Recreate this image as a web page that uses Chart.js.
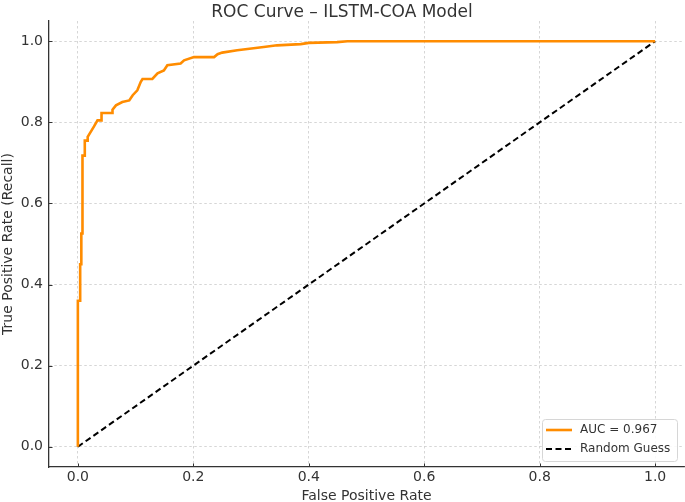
<!DOCTYPE html>
<html>
<head>
<meta charset="utf-8">
<script src="https://cdn.jsdelivr.net/npm/chart.js@4.4.0/dist/chart.umd.min.js"></script>
<style>
html, body { margin: 0; padding: 0; background: #fff; }
#wrap { width: 685px; height: 502px; position: relative; }
</style>
</head>
<body>
<div id="wrap"><canvas id="roc"></canvas></div>
<script>
// ROC points (corners of the step curve)
let fpr = [0, 0, 0.004, 0.004, 0.006, 0.006, 0.008, 0.008, 0.012, 0.012, 0.017, 0.017,
  0.022, 0.028, 0.034, 0.041, 0.041, 0.06, 0.06, 0.066, 0.077, 0.089, 0.095, 0.103,
  0.109, 0.112, 0.129, 0.138, 0.149, 0.155, 0.178, 0.184, 0.201, 0.236, 0.242, 0.25,
  0.276, 0.322, 0.345, 0.386, 0.4, 0.449, 0.467, 1.0];
let tpr = [0, 0.36, 0.36, 0.45, 0.45, 0.526, 0.526, 0.718, 0.718, 0.755, 0.755, 0.764,
  0.776, 0.79, 0.805, 0.805, 0.823, 0.823, 0.831, 0.842, 0.85, 0.854, 0.867, 0.879,
  0.9, 0.907, 0.907, 0.921, 0.928, 0.941, 0.945, 0.953, 0.961, 0.961, 0.968, 0.972,
  0.978, 0.986, 0.99, 0.993, 0.996, 0.998, 1.0, 1.0];

// random guess diagonal
let guessX = [0, 1];
let guessY = [0, 1];

let tickValues = [0, 0.2, 0.4, 0.6, 0.8, 1.0];

let aucLabel = "AUC = 0.967";
let guessLabel = "Random Guess";

let textColor = "#333333";
let font = "'DejaVu Sans', sans-serif";

function pairs(xs, ys) {
  return xs.map((x, i) => ({ x: x, y: ys[i] }));
}

function fixTicks(scale) {
  scale.ticks = tickValues.map(v => ({ value: v }));
}

// matplotlib style inward ticks
const innerTicks = {
  id: "innerTicks",
  afterDraw(chart) {
    let ctx = chart.ctx;
    let area = chart.chartArea;
    let xs = chart.scales.x, ys = chart.scales.y;
    ctx.save();
    ctx.strokeStyle = textColor;
    ctx.lineWidth = 1;
    ctx.beginPath();
    tickValues.forEach(v => {
      let px = Math.round(xs.getPixelForValue(v)) + 0.5;
      ctx.moveTo(px, area.bottom);
      ctx.lineTo(px, area.bottom - 3.5);
      let py = Math.round(ys.getPixelForValue(v)) + 0.5;
      ctx.moveTo(area.left, py);
      ctx.lineTo(area.left + 3.5, py);
    });
    ctx.stroke();
    ctx.restore();
  }
};

// legend box in lower right corner of the plot
const cornerLegend = {
  id: "cornerLegend",
  afterDraw(chart) {
    let ctx = chart.ctx;
    let area = chart.chartArea;
    let w = 135, h = 42;
    let x0 = area.right - 7 - w, y0 = area.bottom - 6 - h;
    ctx.save();
    ctx.fillStyle = "rgba(255,255,255,0.85)";
    ctx.strokeStyle = "#d6d6d6";
    ctx.lineWidth = 1;
    ctx.beginPath();
    ctx.roundRect(x0 + 0.5, y0 + 0.5, w, h, 3);
    ctx.fill();
    ctx.stroke();
    ctx.font = "12px " + font;
    ctx.textBaseline = "middle";
    chart.data.datasets.forEach((ds, i) => {
      let y = y0 + 11 + i * 19;
      ctx.strokeStyle = ds.borderColor;
      ctx.lineWidth = ds.borderWidth;
      ctx.setLineDash(ds.borderDash || []);
      ctx.beginPath();
      ctx.moveTo(x0 + 4, y);
      ctx.lineTo(x0 + 30, y);
      ctx.stroke();
      ctx.setLineDash([]);
      ctx.fillStyle = textColor;
      ctx.fillText(ds.label, x0 + 38, y);
    });
    ctx.restore();
  }
};

let ctx = document.getElementById("roc").getContext("2d");

let chart = new Chart(ctx, {
  type: "scatter",
  data: {
    datasets: [
      {
        label: aucLabel,
        data: pairs(fpr, tpr),
        showLine: true,
        borderColor: "#ff8c00",
        borderWidth: 2.6,
        pointRadius: 0,
        fill: false
      },
      {
        label: guessLabel,
        data: pairs(guessX, guessY),
        showLine: true,
        borderColor: "#000000",
        borderWidth: 2,
        borderDash: [6, 3.5],
        pointRadius: 0,
        fill: false
      }
    ]
  },
  options: {
    responsive: true,
    maintainAspectRatio: false,
    animation: false,
    layout: { padding: { left: 0, right: 1, top: 0, bottom: 0 } },
    plugins: {
      legend: { display: false },
      tooltip: { enabled: false },
      title: {
        display: true,
        text: "ROC Curve – ILSTM-COA Model",
        color: textColor,
        font: { family: font, size: 17, weight: "normal", lineHeight: 1.0 },
        padding: { top: 4, bottom: 0 }
      }
    },
    scales: {
      x: {
        type: "linear",
        min: -0.05,
        max: 1.05,
        afterBuildTicks: fixTicks,
        afterFit(scale) { scale.height = 35; },
        ticks: {
          color: textColor,
          font: { family: font, size: 14 },
          padding: 2,
          callback: v => v.toFixed(1)
        },
        grid: { color: "#cccccc", lineWidth: 0.8, drawTicks: false },
        border: { display: true, color: textColor, width: 1.3, dash: [2.5, 2.5] },
        title: {
          display: true,
          text: "False Positive Rate",
          color: textColor,
          font: { family: font, size: 14 },
          padding: { top: 0, bottom: -3 }
        }
      },
      y: {
        type: "linear",
        min: -0.05,
        max: 1.05,
        afterBuildTicks: fixTicks,
        afterFit(scale) { scale.width = 49; },
        ticks: {
          color: textColor,
          font: { family: font, size: 14 },
          padding: 6,
          callback: v => v.toFixed(1)
        },
        grid: { color: "#cccccc", lineWidth: 0.8, drawTicks: false },
        border: { display: true, color: textColor, width: 1.3, dash: [2.5, 2.5] },
        title: {
          display: true,
          text: "True Positive Rate (Recall)",
          color: textColor,
          font: { family: font, size: 14 },
          padding: { top: 0, bottom: 0 }
        }
      }
    }
  },
  plugins: [innerTicks, cornerLegend]
});
</script>
</body>
</html>
